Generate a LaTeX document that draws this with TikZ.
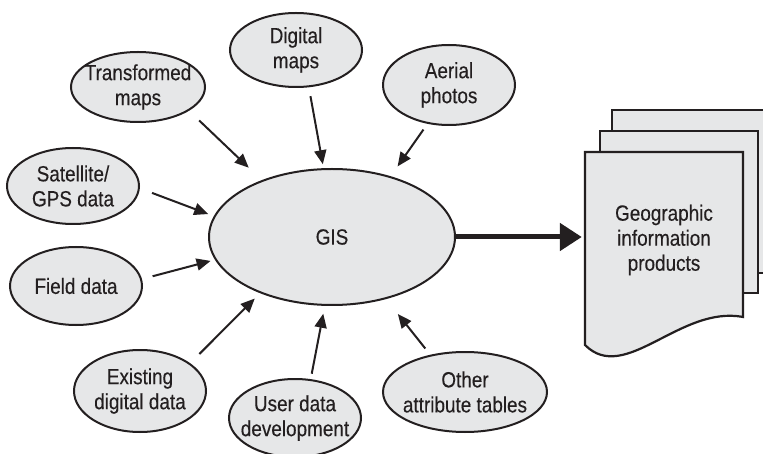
\documentclass[tikz,border=0pt]{standalone}
\usepackage{fontspec}
\setmainfont{Liberation Sans}[FakeStretch=0.86,FakeBold=0.3]
\usetikzlibrary{shapes.geometric,arrows.meta,calc}
\definecolor{ink}{HTML}{231F20}
\definecolor{paper}{HTML}{E6E7E8}
\begin{document}
\begin{tikzpicture}[x=1pt,y=-1pt,
  every node/.style={font=\fontsize{22}{25}\selectfont, text=ink},
  src/.style={ellipse, draw=ink, line width=2pt, fill=paper, inner sep=0pt,
    minimum width=132pt, minimum height=76pt},
  arr/.style={-{Triangle[length=14pt,width=12pt]}, line width=2pt, draw=ink},
  bigarr/.style={-{Triangle[length=22pt,width=27pt]}, line width=5pt, draw=ink},
  page/.style={draw=ink, fill=paper, line width=2.2pt, line join=miter},
  lbl/.style={align=center}
]
\useasboundingbox (0,0) rectangle (763,454);
\clip (0,0) rectangle (763,454);

% output document stack
\draw[page] (612,110) rectangle (785,273);
\draw[page] (600,131) rectangle (758,293);
\draw[page] (585,152) -- (743,152) -- (743,317)
  .. controls (680,305) and (625,385) .. (585,345) -- cycle;
\node[align=center, minimum width=158pt, inner sep=0pt] (doc) at (664,240)
  {Geographic\\information\\products};

% central node
\node[src, minimum width=246pt, minimum height=136pt] (gis) at (332,237) {GIS};

% source nodes
\node[src, minimum width=134pt, minimum height=70pt,
  label={[lbl]center:Transformed\\maps}] (tm) at (138,87) {};
\node[src, minimum height=74pt, label={[lbl]center:Digital\\maps}] (dm) at (296,50) {};
\node[src, minimum height=80pt, label={[lbl]center:Aerial\\photos}] (ap) at (449,85) {};
\node[src, label={[lbl]center:Satellite/\\GPS data}] (sat) at (73,186) {};
\node[src, minimum height=78pt, label={[lbl]center:Field data}] (fd) at (76,286) {};
\node[src, minimum height=82pt, label={[lbl]center:Existing\\digital data}] (ex) at (140,391) {};
\node[src, minimum height=78pt, label={[lbl]center:User data\\development}] (ud) at (295,418) {};
\node[src, minimum width=164pt, minimum height=80pt,
  label={[lbl]center:Other\\attribute tables}] (ot) at (465,392) {};

% connectors
\draw[arr, shorten <=14pt, shorten >=18pt] (tm.-25.8) -- (gis.141.4);
\draw[arr, shorten <=9pt, shorten >=4pt] (dm.-71.6) -- (gis.97.9);
\draw[arr, shorten <=7pt, shorten >=12pt] (ap.-119.6) -- (gis.46.3);
\draw[arr, shorten <=13pt, shorten >=6pt] (sat.-2.9) -- (gis.170.8);
\draw[arr, shorten <=11pt, shorten >=4.5pt] (fd.6.75) -- (gis.191.3);
\draw[arr, shorten <=13pt, shorten >=7.5pt] (ex.29.5) -- (gis.-142.1);
\draw[arr, shorten <=5.5pt, shorten >=8pt] (ud.68.4) -- (gis.-96.8);
\draw[arr, shorten <=8pt, shorten >=19pt] (ot.133.6) -- (gis.-49.5);

\draw[bigarr, shorten >=3pt] (gis.east) -- (gis.east -| doc.west);
\end{tikzpicture}
\end{document}
